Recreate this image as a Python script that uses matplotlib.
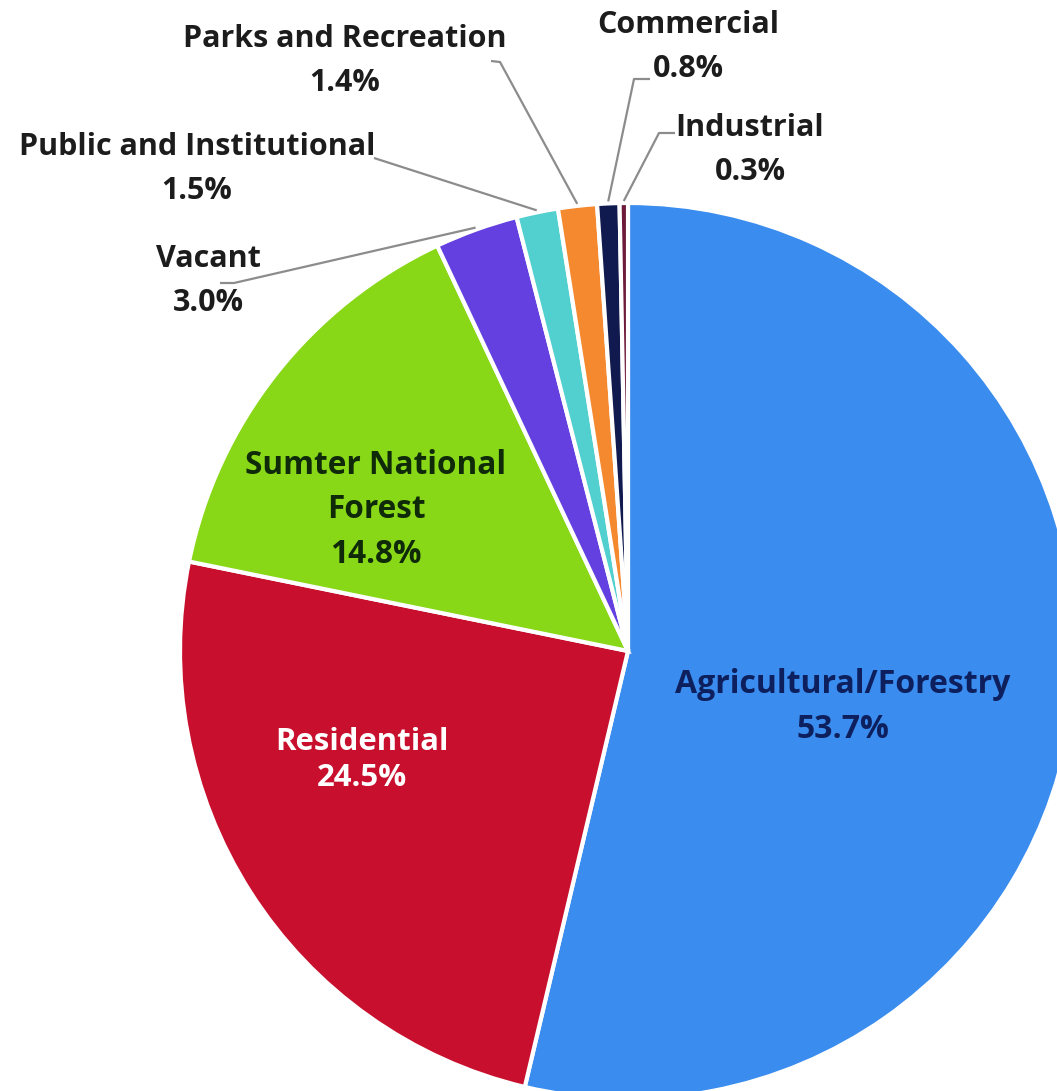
import numpy as np
import matplotlib
matplotlib.use("Agg")
import matplotlib.pyplot as plt

W, H = 1057, 1091

labels = ["Agricultural/Forestry", "Residential", "Sumter National\nForest", "Vacant",
          "Public and Institutional", "Parks and Recreation", "Commercial", "Industrial"]
shares = [53.7, 24.5, 14.8, 3.0, 1.5, 1.4, 0.8, 0.3]
colors = ["#3a8cee", "#c8102e", "#88d818", "#6440e0", "#52d0d0", "#f5892f", "#111a4e", "#6e1a3a"]

plt.rcParams['font.family'] = ['Open Sans', 'DejaVu Sans']

fig = plt.figure(figsize=(W / 100, H / 100), dpi=100)
ax = fig.add_axes([0, 0, 1, 1])

# pie in pixel space (y measured from the top of the image)
cx, cy, r = 628, 651, 448
wedges, _ = ax.pie(shares, colors=colors, startangle=90, counterclock=False,
                   center=(cx, H - cy), radius=r,
                   wedgeprops=dict(edgecolor='white', linewidth=3))
ax.set_xlim(0, W)
ax.set_ylim(0, H)
ax.set_aspect('equal')
ax.axis('off')


def top(y):
    return H - y


def wedge_edge(w, extra=2):
    ang = np.deg2rad((w.theta1 + w.theta2) / 2)
    return cx + (r + extra) * np.cos(ang), top(cy) + (r + extra) * np.sin(ang)


# labels inside the big slices
inside = {
    0: dict(xy=(843, 707), color='#0d1f5c', size=23, ls=1.45),
    1: dict(xy=(362, 760), color='white', size=22.4, ls=1.3),
    2: dict(xy=(376, 510), color='#0f2a08', size=22.7, ls=1.45),
}
for i, o in inside.items():
    ax.text(o['xy'][0], top(o['xy'][1]), f"{labels[i]}\n{shares[i]:.1f}%",
            ha='center', va='center', fontsize=o['size'], fontweight='bold',
            color=o['color'], linespacing=o['ls'])

# outside labels with leader lines
outside = {
    3: dict(xy=(208, 281), path=[(220, 283), (234, 283)]),
    4: dict(xy=(197, 169), path=[(374, 158)]),
    5: dict(xy=(345, 61), path=[(491, 61), (500, 62)]),
    6: dict(xy=(688, 47), path=[(650, 79), (634, 79)]),
    7: dict(xy=(750, 150), path=[(675, 133), (659, 133)]),
}
for i, o in outside.items():
    ax.text(o['xy'][0], top(o['xy'][1]), f"{labels[i]}\n{shares[i]:.1f}%",
            ha='center', va='center', fontsize=22, fontweight='bold',
            color='#1c1c1c', linespacing=1.62)
    ex, ey = wedge_edge(wedges[i])
    xs = [p[0] for p in o['path']] + [ex]
    ys = [top(p[1]) for p in o['path']] + [ey]
    ax.plot(xs, ys, color='#8c8c8c', linewidth=1.6, solid_capstyle='butt')

plt.savefig("out.png", dpi=100)
